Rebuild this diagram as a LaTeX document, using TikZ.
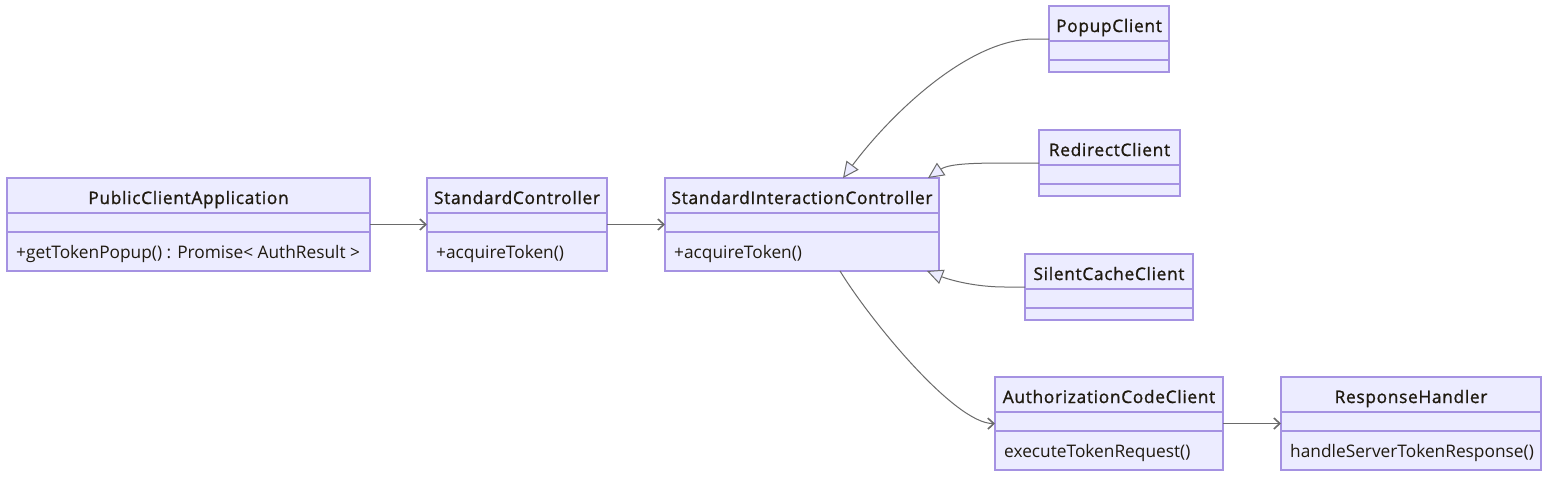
\documentclass[tikz,border=0pt]{standalone}
\usepackage{fontspec}
\setmainfont{Open Sans}
\newfontfamily\titlefont{Open Sans}[FakeBold=1.2]
\usetikzlibrary{arrows.meta}
\definecolor{boxfill}{HTML}{ECECFF}
\definecolor{boxline}{HTML}{A592E2}
\definecolor{edgecol}{HTML}{6A6A6A}
\definecolor{txtcol}{HTML}{1F1A10}
\newcommand{\umlclass}[8]{%
  % #1 name, #2 x1, #3 y1, #4 x2, #5 y2, #6 divider, #7 title, #8 method
  \pgfmathsetmacro\clw{#4-#2}\pgfmathsetmacro\clh{#5-#3}%
  \node[classbox, minimum width=\clw pt, minimum height=\clh pt] (#1) at ({(#2+#4)/2},{(#3+#5)/2}) {};
  \draw[divider] (#2,{#3+35}) -- (#4,{#3+35});
  \draw[divider] (#2,{#3+54}) -- (#4,{#3+54});
  \node[clstext, font=\titlefont\fontsize{17.3}{20}\selectfont, anchor=base] (#1-title) at ({(#2+#4)/2},{#3+26}) {\addfontfeature{LetterSpace=4}#7};
  \node[clstext, anchor=base west] (#1-ops) at ({#2+9},{#3+80}) {#8};
}
\begin{document}
\begin{tikzpicture}[x=1pt,y=-1pt,
  classbox/.style={draw=boxline, fill=boxfill, line width=1.4pt, inner sep=0pt, outer sep=0pt},
  divider/.style={draw=boxline, line width=1.4pt},
  clstext/.style={text=txtcol, font=\fontsize{17.3}{20}\selectfont, inner sep=0pt},
  assoc/.style={draw=edgecol, line width=1pt, -{Straight Barb[length=6pt,width=11pt,line width=1.6pt]}},
  inherit/.style={draw=edgecol, line width=1pt, -{Triangle[length=16pt,width=15pt,fill=boxfill,line width=1pt]}}
]
\useasboundingbox[fill=white] (0,0) rectangle (1554,480);

\umlclass{pca}{7}{178}{370}{271}{213}{PublicClientApplication}{+getTokenPopup() : Promise< AuthResult >}
\umlclass{sc}{427}{178}{607}{271}{213}{StandardController}{+acquireToken()}
\umlclass{sic}{665}{178}{939}{271}{213}{StandardInteractionController}{+acquireToken()}
\umlclass{popup}{1049}{6}{1169}{72}{41}{PopupClient}{}
\umlclass{redirect}{1039}{130}{1180}{196}{165}{RedirectClient}{}
\umlclass{silent}{1025}{254}{1193}{320}{289}{SilentCacheClient}{}
\umlclass{acc}{995}{377}{1223}{470}{412}{AuthorizationCodeClient}{executeTokenRequest()}
\umlclass{rh}{1281}{377}{1541}{470}{412}{ResponseHandler}{handleServerTokenResponse()}

\draw[assoc] (pca) -- (sc);
\draw[assoc] (sc) -- (sic);
\draw[assoc] (acc) -- (rh);
\draw[assoc] ([xshift=38pt]sic.south) .. controls (870,320) and (955,424) .. (acc.west);

\draw[inherit] (popup.west) -- ++(-15,0) .. controls (968,39) and (890,115) .. ([xshift=41pt]sic.north);
\draw[inherit] (redirect.west) -- ++(-25,0) .. controls (980,163) and (950,163) .. ([xshift=126pt]sic.north);
\draw[inherit] (silent.west) -- ++(-20,0) .. controls (975,287) and (950,280) .. ([xshift=125pt]sic.south);
\end{tikzpicture}
\end{document}
